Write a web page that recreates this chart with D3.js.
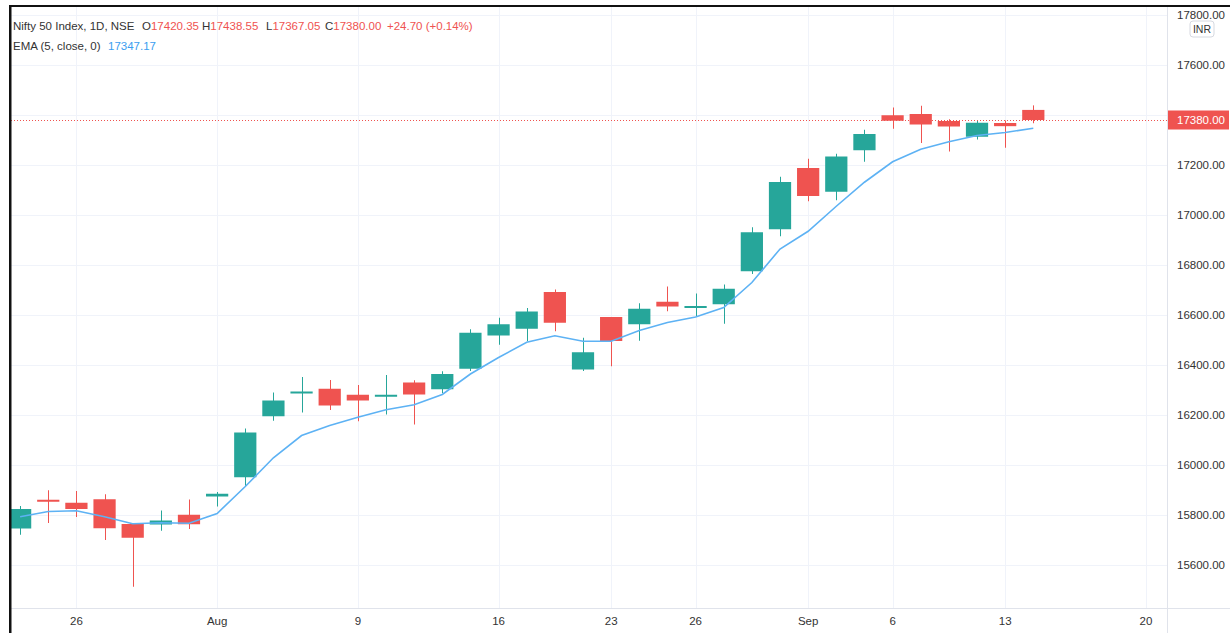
<!DOCTYPE html>
<html>
<head>
<meta charset="utf-8">
<script src="https://cdn.jsdelivr.net/npm/d3@7"></script>
<style>
  html, body { margin: 0; padding: 0; background: #fff; }
  svg text { font-family: "Liberation Sans", Arial, sans-serif; }
</style>
</head>
<body>
<div id="chart"></div>
<script>
// trading days shown (Jul 21, Aug 19, Sep 10 were market holidays)
const dates = ["2021-07-22","2021-07-23","2021-07-26","2021-07-27","2021-07-28","2021-07-29","2021-07-30",
  "2021-08-02","2021-08-03","2021-08-04","2021-08-05","2021-08-06","2021-08-09","2021-08-10","2021-08-11",
  "2021-08-12","2021-08-13","2021-08-16","2021-08-17","2021-08-18","2021-08-20","2021-08-23","2021-08-24",
  "2021-08-25","2021-08-26","2021-08-27","2021-08-30","2021-08-31","2021-09-01","2021-09-02","2021-09-03",
  "2021-09-06","2021-09-07","2021-09-08","2021-09-09","2021-09-13","2021-09-14"];
const futureDates = ["2021-09-15","2021-09-16","2021-09-17","2021-09-20"];

const opens  = [15746,15861,15849,15863,15764,15762,15801,15874,15951,16195,16288,16305,16281,16275,16330,
  16303,16385,16518,16545,16692,16382,16592,16563,16653,16631,16643,16775,16943,17188,17093,17259,
  17399,17404,17376,17313,17368,17420.35];
const highs  = [15836,15899,15896,15883,15767,15818,15862,15892,16146,16290,16352,16340,16320,16360,16339,
  16375,16543,16589,16628,16702,16509,16592,16647,16714,16686,16722,16951,17153,17225,17245,17341,
  17430,17437,17383,17379,17378,17438.55];
const lows   = [15721,15768,15792,15700,15513,15737,15744,15834,15915,16177,16210,16220,16175,16202,16162,
  16288,16376,16481,16495,16535,16376,16395,16497,16615,16595,16565,16764,16915,17055,17059,17213,
  17345,17288,17254,17302,17269,17367.05];
const closes = [15824,15856,15824,15747,15709,15778,15763,15885,16130,16258,16294,16238,16258,16281,16282,
  16364,16529,16563,16614,16569,16451,16496,16625,16634,16636,16705,16931,17132,17076,17234,17324,
  17377,17362,17354,17369,17355.3,17380];
const emaValues = [15793,15814,15817,15793,15765,15769,15767,15806,15914,16029,16118,16158,16191,16221,16241,
  16282,16364,16430,16491,16517,16495,16495,16538,16570,16592,16630,16730,16864,16935,17035,17131,
  17213,17263,17293,17318,17330,17347.17];

const yTicks = [15600,15800,16000,16200,16400,16600,16800,17000,17200,17400,17600,17800];
const xTickDates  = ["2021-07-26","2021-08-02","2021-08-09","2021-08-16","2021-08-23","2021-08-26","2021-09-01","2021-09-06","2021-09-13","2021-09-20"];
const xTickLabels = ["26","Aug","9","16","23","26","Sep","6","13","20"];

const lastPrice = 17380;

function candleChart() {
  const W = 1230, H = 633;
  const plot = {left: 11, top: 7, right: 1167, bottom: 608};
  const up = "#26a69a", down = "#ef5350";

  let x = d3.scaleBand()
    .domain(dates.concat(futureDates))
    .range([9, 9 + 28 * (dates.length + futureDates.length)])
    .paddingInner(0.21);
  let y = d3.scaleLinear().domain([15600, 17800]).range([565, 15]);
  const cx = d => x(d) + x.bandwidth() / 2;

  let svg = d3.select("#chart")
    .append("svg")
    .attr("width", W)
    .attr("height", H);

  svg.append("defs").append("clipPath").attr("id", "plotClip")
    .append("rect")
    .attr("x", plot.left).attr("y", plot.top)
    .attr("width", plot.right - plot.left).attr("height", plot.bottom - plot.top);

  // grid
  svg.append("g").selectAll("line")
    .data(yTicks)
    .enter().append("line")
    .attr("x1", plot.left).attr("x2", plot.right)
    .attr("y1", d => Math.round(y(d)) + 0.5).attr("y2", d => Math.round(y(d)) + 0.5)
    .attr("stroke", "#f0f3fa");

  svg.append("g").selectAll("line")
    .data(xTickDates)
    .enter().append("line")
    .attr("x1", d => Math.round(cx(d)) + 0.5).attr("x2", d => Math.round(cx(d)) + 0.5)
    .attr("y1", plot.top).attr("y2", plot.bottom)
    .attr("stroke", "#f0f3fa");

  let candles = dates.map((d, i) => ({date: d, o: opens[i], h: highs[i], l: lows[i], c: closes[i]}));
  let g = svg.append("g").attr("clip-path", "url(#plotClip)");

  // wicks
  g.selectAll("line.wick")
    .data(candles)
    .enter().append("line")
    .attr("class", "wick")
    .attr("x1", d => Math.round(cx(d.date)) + 0.5)
    .attr("x2", d => Math.round(cx(d.date)) + 0.5)
    .attr("y1", d => y(d.h))
    .attr("y2", d => y(d.l))
    .attr("stroke", d => d.c >= d.o ? up : down)
    .attr("stroke-width", 1);

  // bodies
  g.selectAll("rect.body")
    .data(candles)
    .enter().append("rect")
    .attr("class", "body")
    .attr("x", d => x(d.date))
    .attr("width", x.bandwidth())
    .attr("y", d => y(Math.max(d.o, d.c)))
    .attr("height", d => Math.max(2, Math.abs(y(d.o) - y(d.c))))
    .attr("fill", d => d.c >= d.o ? up : down);

  // EMA line
  let line = d3.line()
    .x((d, i) => cx(dates[i]))
    .y(d => y(d));
  g.append("path")
    .datum(emaValues)
    .attr("d", line)
    .attr("fill", "none")
    .attr("stroke", "#5db2f4")
    .attr("stroke-width", 1.6);

  // last price dotted line
  svg.append("line")
    .attr("x1", plot.left).attr("x2", plot.right)
    .attr("y1", Math.round(y(lastPrice)) + 0.5).attr("y2", Math.round(y(lastPrice)) + 0.5)
    .attr("stroke", down)
    .attr("stroke-dasharray", "1,2");

  // right price axis
  let yAxis = d3.axisRight(y)
    .tickValues(yTicks)
    .tickSize(0)
    .tickPadding(10)
    .tickFormat(d3.format(".2f"));
  let ya = svg.append("g")
    .attr("transform", `translate(${plot.right},0)`)
    .call(yAxis);
  ya.select(".domain").remove();
  ya.selectAll("text").attr("fill", "#333").style("font-size", "11.5px");

  // last price badge
  svg.append("rect")
    .attr("x", plot.right).attr("y", y(lastPrice) - 9.5)
    .attr("width", W - plot.right - 1).attr("height", 19)
    .attr("fill", down);
  svg.append("text")
    .attr("x", plot.right + 10).attr("y", y(lastPrice))
    .attr("dy", "0.35em")
    .attr("fill", "#fff")
    .style("font-size", "11.5px")
    .text(d3.format(".2f")(lastPrice));

  // currency tag
  svg.append("rect")
    .attr("x", 1190).attr("y", 21).attr("width", 24).attr("height", 16).attr("rx", 3)
    .attr("fill", "#fff").attr("stroke", "#d6d9e0");
  svg.append("text")
    .attr("x", 1202).attr("y", 29).attr("dy", "0.35em")
    .attr("text-anchor", "middle").attr("fill", "#333")
    .style("font-size", "10.5px")
    .text("INR");

  // bottom time axis
  let xAxis = d3.axisBottom(x)
    .tickValues(xTickDates)
    .tickSize(0)
    .tickPadding(9)
    .tickFormat((d, i) => xTickLabels[i]);
  let xa = svg.append("g")
    .attr("transform", `translate(0,${plot.bottom})`)
    .call(xAxis);
  xa.select(".domain").remove();
  xa.selectAll("text").attr("fill", "#333").style("font-size", "11.5px");

  // separators & frame
  svg.append("line").attr("x1", plot.left).attr("x2", W).attr("y1", plot.bottom + 0.5).attr("y2", plot.bottom + 0.5)
    .attr("stroke", "#e0e3eb");
  svg.append("line").attr("x1", plot.right + 0.5).attr("x2", plot.right + 0.5).attr("y1", plot.top).attr("y2", H)
    .attr("stroke", "#e0e3eb");
  svg.append("rect").attr("x", 9).attr("y", 5).attr("width", W - 9).attr("height", 2).attr("fill", "#111");
  svg.append("rect").attr("x", 9).attr("y", 5).attr("width", 2.5).attr("height", H - 5).attr("fill", "#111");

  // legend
  let fmt = d3.format(".2f");
  let last = candles[candles.length - 1];
  let prev = closes[closes.length - 2];
  let chg = last.c - prev;
  let leg1 = svg.append("text").attr("x", 13).attr("y", 30).style("font-size", "11.5px");
  leg1.append("tspan").attr("fill", "#333").text("Nifty 50 Index, 1D, NSE");
  [["O", last.o, 142], ["H", last.h, 202], ["L", last.l, 266], ["C", last.c, 325]].forEach(p => {
    leg1.append("tspan").attr("x", p[2]).attr("fill", "#333").text(p[0]);
    leg1.append("tspan").attr("fill", down).text(fmt(p[1]));
  });
  leg1.append("tspan").attr("x", 387).attr("fill", down)
    .text(`+${fmt(chg)} (+${fmt(chg / prev * 100)}%)`);

  let leg2 = svg.append("text").attr("x", 13).attr("y", 50).style("font-size", "11.5px");
  leg2.append("tspan").attr("fill", "#333").text("EMA (5, close, 0)");
  leg2.append("tspan").attr("x", 108).attr("fill", "#3b9ef0").text(fmt(emaValues[emaValues.length - 1]));
}

candleChart();
</script>
</body>
</html>
